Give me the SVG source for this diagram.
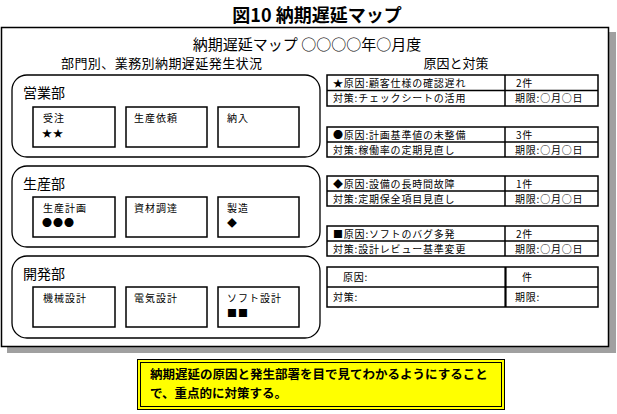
<svg xmlns="http://www.w3.org/2000/svg" width="617" height="414" viewBox="0 0 617 414">
<style>
text{font-family:"Noto Sans CJK JP","Noto Sans",sans-serif;fill:#000}
.dept{fill:#fff;stroke:#000;stroke-width:1.3}
.task{fill:#fff;stroke:#000;stroke-width:1.5}
.tbl{fill:#fff;stroke:#000;stroke-width:1.5}
.lbl{font-size:14px}
.tt{font-size:10px;letter-spacing:1px}
.mk{font-size:10px;letter-spacing:1px}
.cell{font-size:10px;letter-spacing:0.8px}
.sum{font-size:12.5px;font-weight:bold}
</style>
<rect width="617" height="414" fill="#fff"/>
<g id="title">
<text x="317" y="22" font-size="18" font-weight="bold" text-anchor="middle">図10 納期遅延マップ</text>
</g>
<g id="frame">
<rect x="7" y="32" width="609" height="321" fill="#a0a0a0"/>
<rect x="1.5" y="27.5" width="607" height="319" fill="#fff" stroke="#000" stroke-width="1.5"/>
<text x="307" y="50" font-size="15" text-anchor="middle">納期遅延マップ ○○○○年○月度</text>
<text x="61" y="68" font-size="13" textLength="201">部門別、業務別納期遅延発生状況</text>
<text x="456" y="68" font-size="13" text-anchor="middle">原因と対策</text>
</g>
<g id="dept-eigyo">
<rect class="dept" x="12" y="75" width="308" height="82" rx="15"/>
<text class="lbl" x="23" y="98">営業部</text>
<g id="juchu"><rect class="task" x="33" y="107" width="82" height="40"/><text class="tt" x="43" y="122">受注</text><text class="mk" x="42" y="137">★★</text></g>
<g id="seisan-irai"><rect class="task" x="126" y="107" width="81" height="40"/><text class="tt" x="134" y="122">生産依頼</text></g>
<g id="nounyu"><rect class="task" x="218" y="107" width="81" height="40"/><text class="tt" x="227" y="122">納入</text></g>
</g>
<g id="dept-seisan">
<rect class="dept" x="12" y="166" width="308" height="81" rx="15"/>
<text class="lbl" x="23" y="189">生産部</text>
<g id="seisan-keikaku"><rect class="task" x="33" y="197" width="82" height="40"/><text class="tt" x="43" y="212">生産計画</text><text class="mk" x="42" y="227">●●●</text></g>
<g id="shizai"><rect class="task" x="126" y="197" width="81" height="40"/><text class="tt" x="134" y="212">資材調達</text></g>
<g id="seizo"><rect class="task" x="218" y="197" width="81" height="40"/><text class="tt" x="227" y="212">製造</text><text class="mk" x="227" y="227">◆</text></g>
</g>
<g id="dept-kaihatsu">
<rect class="dept" x="12" y="256" width="308" height="82" rx="15"/>
<text class="lbl" x="23" y="279">開発部</text>
<g id="kikai"><rect class="task" x="33" y="287" width="82" height="40"/><text class="tt" x="43" y="302">機械設計</text></g>
<g id="denki"><rect class="task" x="126" y="287" width="81" height="40"/><text class="tt" x="134" y="302">電気設計</text></g>
<g id="soft"><rect class="task" x="218" y="287" width="81" height="40"/><text class="tt" x="227" y="302">ソフト設計</text><text class="mk" x="227" y="317">■■</text></g>
</g>
<g id="cause-1">
<rect class="tbl" x="327" y="75" width="271" height="31"/>
<line x1="327" y1="90.5" x2="598" y2="90.5" stroke="#000" stroke-width="1.5"/>
<line x1="505" y1="75" x2="505" y2="106" stroke="#000" stroke-width="1.5"/>
<text class="cell" x="333" y="87">★原因:顧客仕様の確認遅れ</text>
<text class="cell" x="516" y="87">2件</text>
<text class="cell" x="333" y="102">対策:チェックシートの活用</text>
<text class="cell" x="515" y="102">期限:○月○日</text>
</g>
<g id="cause-2">
<rect class="tbl" x="327" y="127" width="271" height="30"/>
<line x1="327" y1="142" x2="598" y2="142" stroke="#000" stroke-width="1.5"/>
<line x1="505" y1="127" x2="505" y2="157" stroke="#000" stroke-width="1.5"/>
<text class="cell" x="333" y="139">●原因:計画基準値の未整備</text>
<text class="cell" x="516" y="139">3件</text>
<text class="cell" x="333" y="154">対策:稼働率の定期見直し</text>
<text class="cell" x="515" y="154">期限:○月○日</text>
</g>
<g id="cause-3">
<rect class="tbl" x="327" y="176" width="271" height="30"/>
<line x1="327" y1="191" x2="598" y2="191" stroke="#000" stroke-width="1.5"/>
<line x1="505" y1="176" x2="505" y2="206" stroke="#000" stroke-width="1.5"/>
<text class="cell" x="333" y="188">◆原因:設備の長時間故障</text>
<text class="cell" x="516" y="188">1件</text>
<text class="cell" x="333" y="203">対策:定期保全項目見直し</text>
<text class="cell" x="515" y="203">期限:○月○日</text>
</g>
<g id="cause-4">
<rect class="tbl" x="327" y="226" width="271" height="30"/>
<line x1="327" y1="241" x2="598" y2="241" stroke="#000" stroke-width="1.5"/>
<line x1="505" y1="226" x2="505" y2="256" stroke="#000" stroke-width="1.5"/>
<text class="cell" x="333" y="238">■原因:ソフトのバグ多発</text>
<text class="cell" x="516" y="238">2件</text>
<text class="cell" x="333" y="253">対策:設計レビュー基準変更</text>
<text class="cell" x="515" y="253">期限:○月○日</text>
</g>
<g id="cause-5">
<rect class="tbl" x="327" y="267" width="271" height="40"/>
<line x1="327" y1="287" x2="598" y2="287" stroke="#000" stroke-width="1.5"/>
<line x1="505.5" y1="267" x2="505.5" y2="307" stroke="#000" stroke-width="2.2"/>
<text class="cell" x="343" y="281">原因:</text>
<text class="cell" x="522" y="281">件</text>
<text class="cell" x="333" y="301">対策:</text>
<text class="cell" x="515" y="301">期限:</text>
</g>
<g id="connectors"/>
<g id="summary">
<rect x="137.5" y="359.5" width="367" height="50" fill="#ffff00" stroke="#000" stroke-width="1"/>
<rect x="140.5" y="362.5" width="361" height="44" fill="none" stroke="#000" stroke-width="1"/>
<text class="sum" x="150" y="379">納期遅延の原因と発生部署を目で見てわかるようにすること</text>
<text class="sum" x="150" y="398">で、重点的に対策する。</text>
</g>
</svg>
